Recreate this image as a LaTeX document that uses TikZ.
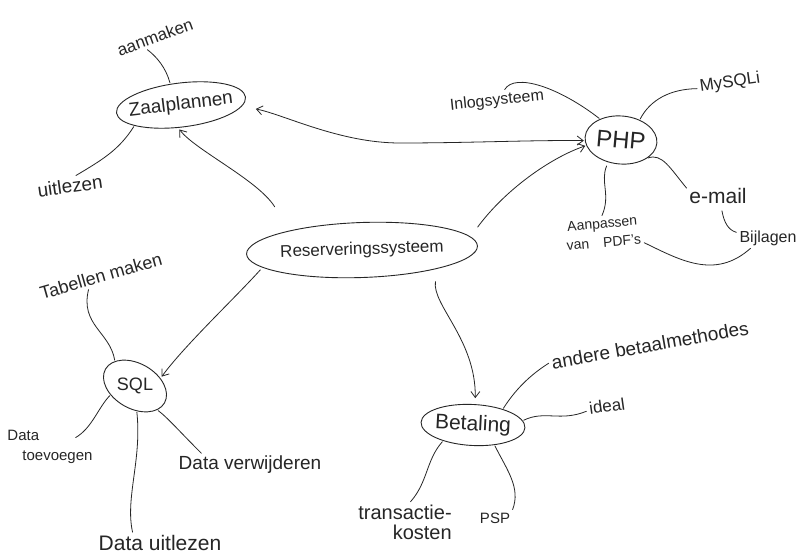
\documentclass[tikz,border=0pt]{standalone}
\usepackage{fontspec}
\setmainfont{Liberation Sans}
\usetikzlibrary{shapes.geometric,arrows.meta}
\begin{document}
\begin{tikzpicture}[x=1pt,y=-1pt,
  every node/.style={text=black!85},
  bubble/.style={draw=black!85, ellipse, line width=0.9pt, inner xsep=-10pt, inner ysep=0pt},
  lbl/.style={inner sep=2pt, font=\fontsize{#1}{#1}\selectfont, align=center},
  link/.style={draw=black!85, line width=0.8pt, line cap=round, shorten <=1pt, shorten >=1pt},
  arrowlink/.style={link, -{Straight Barb[length=6pt,width=9pt]}},
  bothlink/.style={link, {Straight Barb[length=6pt,width=9pt]}-{Straight Barb[length=6pt,width=9pt]}},
]
\useasboundingbox[fill=white] (0,0) rectangle (803,559);

% central bubbles
\node[bubble, minimum width=130pt, minimum height=44pt, rotate=7, font=\fontsize{19}{19}\selectfont] (zaal) at (181,105) {Zaalplannen};
\node[bubble, minimum width=72pt, minimum height=48pt, rotate=-5, font=\fontsize{24}{24}\selectfont] (php) at (621,140) {PHP};
\node[bubble, minimum width=231pt, minimum height=55pt, rotate=2, font=\fontsize{17}{17}\selectfont] (res) at (362,250) {Reserveringssysteem};
\node[bubble, minimum width=68pt, minimum height=44pt, rotate=-30, font=\fontsize{18}{18}\selectfont] (sql) at (135,386) {\rotatebox{30}{SQL}};
\node[bubble, minimum width=104pt, minimum height=41pt, rotate=-3, font=\fontsize{21}{21}\selectfont] (bet) at (473,425) {Betaling};

% labels
\node[lbl=17, rotate=20] (aan) at (155,37) {aanmaken};
\node[lbl=19, rotate=8] (uitz) at (70,186) {uitlezen};
\node[lbl=16, rotate=6] (inlog) at (497,101) {Inlogsysteem};
\node[lbl=17, rotate=8] (mysqli) at (730,83) {MySQLi};
\node[lbl=21] (email) at (718,196) {e-mail};
\node[lbl=16] (bij) at (768,238) {Bijlagen};
\node[lbl=14, rotate=5] (pdf) at (603,233) {Aanpassen\\[5pt]van\quad PDF's};
\node[lbl=18, rotate=16] (tab) at (101,276) {Tabellen maken};
\node[lbl=15, align=left] (toev) at (50,447) {Data\\[5pt]\hspace*{15pt}toevoegen};
\node[lbl=21] (duit) at (160,543) {Data uitlezen};
\node[lbl=19] (dver) at (250,465) {Data verwijderen};
\node[lbl=19, rotate=10] (andere) at (650,345) {andere betaalmethodes};
\node[lbl=17, rotate=8] (ideal) at (607,406) {ideal};
\node[lbl=20, align=right] (trans) at (405,522) {transactie-\\kosten};
\node[lbl=15] (psp) at (495,518) {PSP};

% Zaalplannen branches
\draw[link] (aan.215) .. controls (157,57) and (166,68) .. (zaal.110);
\draw[link] (uitz.55) .. controls (102,160) and (119,150) .. (zaal.197);

% arrows from Reserveringssysteem
\draw[arrowlink, shorten <=28pt, shorten >=2pt] (res.163) .. controls (258,180) and (195,150) .. (zaal.256);
\draw[arrowlink, shorten <=12pt] (res.5) .. controls (505,190) and (550,158) .. (php.194);
\draw[arrowlink, shorten <=3pt, shorten >=2pt] (res.188) .. controls (235,298) and (185,345) .. (sql.47);
\draw[arrowlink, shorten <=13pt, shorten >=6pt] (res.-16) .. controls (432,305) and (476,340) .. (bet.87);

% Zaalplannen <-> PHP
\draw[bothlink, shorten <=14pt] (zaal.-8) .. controls (285,115) and (340,143) .. (400,143)
   .. controls (470,143) and (530,140) .. (php.186);

% PHP branches
\draw[link] (inlog.50) .. controls (515,72) and (560,88) .. (php.140);
\draw[link] (mysqli.182) .. controls (670,89) and (650,100) .. (php.52);
\draw[link] (email.167) .. controls (670,168) and (662,153) .. (php.-30);
\draw[link, shorten <=5pt] (email.-73) .. controls (724,222) and (728,230) .. (bij.170);
\draw[link, shorten <=4pt] (php.245) .. controls (600,182) and (611,195) .. (pdf.north);
\draw[link] (pdf.-18) .. controls (680,260) and (715,280) .. (bij.210);

% SQL branches
\draw[link] (tab.210) .. controls (80,325) and (110,332) .. (sql.159);
\draw[link] ([shift={(-20pt,-10pt)}]toev.north east) .. controls (92,428) and (98,408) .. (sql.230);
\draw[link] (duit.160) .. controls (125,498) and (142,460) .. (sql.-56);
\draw[link] (dver.167) .. controls (180,432) and (168,418) .. (sql.-17);

% Betaling branches
\draw[link] (andere.180) .. controls (530,375) and (515,390) .. (bet.31);
\draw[link] (ideal.186) .. controls (560,422) and (545,410) .. (bet.8);
\draw[link] (trans.76) .. controls (428,482) and (426,460) .. (bet.211);
\draw[link] (psp.north east) .. controls (521,488) and (507,470) .. (bet.-40);
\end{tikzpicture}
\end{document}
